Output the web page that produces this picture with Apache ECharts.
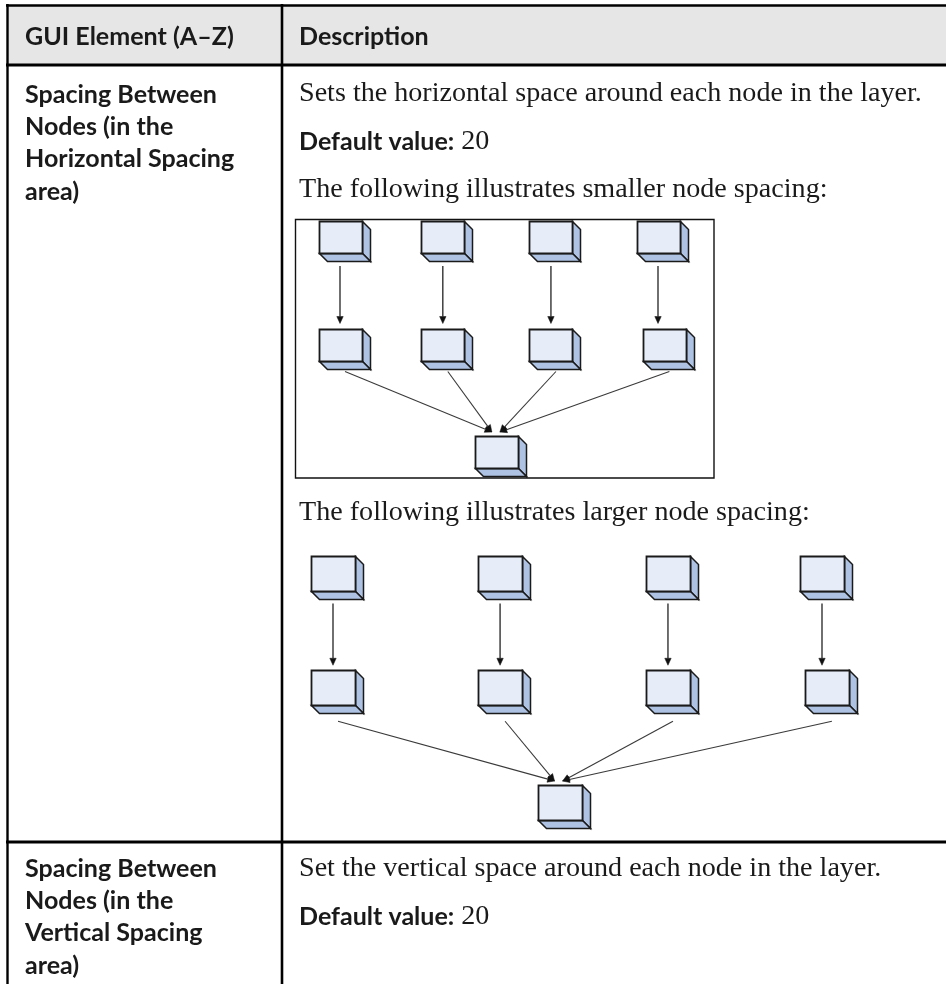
<!DOCTYPE html>
<html>
<head>
<meta charset="utf-8">
<script src="https://cdn.jsdelivr.net/npm/echarts@6/dist/echarts.min.js"></script>
<style>
  html, body { margin: 0; padding: 0; background: #ffffff; }
  #chart { width: 946px; height: 984px; }
</style>
</head>
<body>
<div id="chart"></div>
<script>
// ---------------- DATA ----------------
const headers = ['GUI Element (A–Z)', 'Description'];
const elementNames = [
  ['Spacing Between', 'Nodes (in the', 'Horizontal Spacing', 'area)'],
  ['Spacing Between', 'Nodes (in the', 'Vertical Spacing', 'area)']
];
const descriptions = [
  'Sets the horizontal space around each node in the layer.',
  'Set the vertical space around each node in the layer.'
];
const defaultLabel = 'Default value:';
const defaultValues = ['20', '20'];
const captions = [
  'The following illustrates smaller node spacing:',
  'The following illustrates larger node spacing:'
];
// node positions: slot (horizontal position, in node-slot units) and layer
const smallNodeSlot  = [0, 0.97, 1.99, 3.0, 0, 0.97, 1.99, 3.06, 1.48];
const smallNodeLayer = [0, 0, 0, 0, 1, 1, 1, 1, 2];
const largeNodeSlot  = [0, 1.025, 2.055, 3.0, 0, 1.025, 2.055, 3.03, 1.39];
const largeNodeLayer = [0, 0, 0, 0, 1, 1, 1, 1, 2];
const edgeSource = [0, 1, 2, 3, 4, 5, 6, 7];
const edgeTarget = [4, 5, 6, 7, 8, 8, 8, 8];

// ---------------- STYLE / LAYOUT ----------------
const SANS = "Lato";
const SERIF = "'Liberation Serif'";
const INK = '#1a1a1a';
const FRONT = '#e6edf8';
const SIDE = '#aec3e3';
const EDGE = '#1a1a1a';

function measure(text, font) {
  const ctx = document.createElement('canvas').getContext('2d');
  ctx.font = font;
  return ctx.measureText(text).width;
}
function fit(text, weight, family, target) {
  return 100 * target / measure(text, weight + ' 100px ' + family);
}
const sansSize = fit(elementNames[0][0], 'bold', SANS, 192);
const serifSize = fit(descriptions[0], 'normal', SERIF, 623);

function sansText(str, x, mid) {
  return { type: 'text', silent: true, z: 10,
    style: { text: str, x: x, y: mid,
      fontFamily: SANS, fontWeight: 'bold', fontSize: sansSize, fill: INK,
      textAlign: 'left', textVerticalAlign: 'middle', align: 'left', verticalAlign: 'middle' } };
}
function serifText(str, x, mid) {
  return { type: 'text', silent: true, z: 10,
    style: { text: str, x: x, y: mid,
      fontFamily: SERIF, fontWeight: 'normal', fontSize: serifSize, fill: INK,
      textAlign: 'left', textVerticalAlign: 'middle', align: 'left', verticalAlign: 'middle' } };
}
function defaultLine(value, x, mid) {
  const w = measure(defaultLabel, 'bold ' + sansSize + 'px ' + SANS);
  const sp = measure(' ', serifSize + 'px ' + SERIF);
  return [sansText(defaultLabel, x, mid), serifText(value, x + w + sp, mid)];
}
function hline(x1, x2, y, lw) {
  return { type: 'line', silent: true, z: 5, shape: { x1: x1, y1: y, x2: x2, y2: y },
    style: { stroke: '#000', lineWidth: lw } };
}
function vline(x, y1, y2, lw) {
  return { type: 'line', silent: true, z: 5, shape: { x1: x, y1: y1, x2: x, y2: y2 },
    style: { stroke: '#000', lineWidth: lw } };
}

const COL_L = 25, COL_R = 299;
const graphics = [
  { type: 'rect', silent: true, z: 1, shape: { x: 7, y: 5, width: 945, height: 60 }, style: { fill: '#e6e6e6' } },
  hline(6, 950, 5.5, 2.6),
  hline(6, 950, 65, 3),
  hline(6, 950, 842, 3),
  vline(7.5, 4, 990, 2.4),
  vline(282, 4, 990, 2.6),
  { type: 'rect', silent: true, z: 5, shape: { x: 295.5, y: 219.5, width: 418.5, height: 258.5 },
    style: { fill: 'none', stroke: '#111', lineWidth: 1.4 } },
  sansText(headers[0], COL_L, 37),
  sansText(headers[1], COL_R, 37)
];
const rowFirstMid = [95, 869];
elementNames.forEach((lines, r) => {
  lines.forEach((ln, i) => graphics.push(sansText(ln, COL_L, rowFirstMid[r] + i * 32.2)));
});
graphics.push(serifText(descriptions[0], COL_R, 94));
graphics.push(...defaultLine(defaultValues[0], COL_R, 142));
graphics.push(serifText(captions[0], COL_R, 190));
graphics.push(serifText(captions[1], COL_R, 513));
graphics.push(serifText(descriptions[1], COL_R, 869));
graphics.push(...defaultLine(defaultValues[1], COL_R, 917));

// ---------------- DIAGRAM SERIES ----------------
const cubeDims = [{ w: 43, h: 32, d: 8, gap: 3 }, { w: 44, h: 35, d: 8, gap: 8 }];
const diagrams = [
  { slot: smallNodeSlot, layer: smallNodeLayer },
  { slot: largeNodeSlot, layer: largeNodeLayer }
];

function cubeSeries(di) {
  const dim = cubeDims[di];
  const nodes = diagrams[di];
  return {
    type: 'custom', xAxisIndex: di, yAxisIndex: di, clip: false, z: 4, silent: true,
    data: nodes.slot.map((s, i) => [s, nodes.layer[i]]),
    renderItem: function (params, api) {
      const c = api.coord([api.value(0), api.value(1)]);
      const w = dim.w, h = dim.h, d = dim.d;
      const x0 = Math.round(c[0] - w / 2) + 0.5, y0 = Math.round(c[1] - h / 2) + 0.5;
      return { type: 'group', children: [
        { type: 'polygon', shape: { points: [[x0 + w, y0], [x0 + w + d, y0 + d], [x0 + w + d, y0 + h + d], [x0 + w, y0 + h]] },
          style: { fill: SIDE, stroke: EDGE, lineWidth: 1.5 } },
        { type: 'polygon', shape: { points: [[x0, y0 + h], [x0 + w, y0 + h], [x0 + w + d, y0 + h + d], [x0 + d, y0 + h + d]] },
          style: { fill: SIDE, stroke: EDGE, lineWidth: 1.5 } },
        { type: 'rect', shape: { x: x0, y: y0, width: w, height: h },
          style: { fill: FRONT, stroke: EDGE, lineWidth: 1.8 } }
      ] };
    }
  };
}

function edgeSeries(di) {
  const dim = cubeDims[di];
  const nodes = diagrams[di];
  return {
    type: 'custom', xAxisIndex: di, yAxisIndex: di, clip: false, z: 3, silent: true,
    data: edgeSource.map((s, i) => [s, edgeTarget[i]]),
    renderItem: function (params, api) {
      const si = api.value(0), ti = api.value(1);
      const s = api.coord([nodes.slot[si], nodes.layer[si]]);
      const t = api.coord([nodes.slot[ti], nodes.layer[ti]]);
      const vertical = Math.abs(s[0] - t[0]) < 12;
      let x1, y1, x2, y2;
      if (vertical) {
        x1 = s[0]; y1 = s[1] + dim.h / 2 + dim.d + 5;
        x2 = s[0]; y2 = t[1] - dim.h / 2 - 5;
      } else {
        x1 = s[0] + 5; y1 = s[1] + dim.h / 2 + dim.d + dim.gap;
        x2 = t[0] + (s[0] < t[0] ? -5 : 3); y2 = t[1] - dim.h / 2 - 4;
      }
      const ang = Math.atan2(y2 - y1, x2 - x1);
      const L = 7, W = 3.2;
      const bx = x2 - L * Math.cos(ang), by = y2 - L * Math.sin(ang);
      const px = -Math.sin(ang) * W, py = Math.cos(ang) * W;
      return { type: 'group', children: [
        { type: 'line', shape: { x1: x1, y1: y1, x2: bx, y2: by },
          style: { stroke: vertical ? '#222' : '#3a3a3a', lineWidth: vertical ? 1.3 : 1.1 } },
        { type: 'polygon', shape: { points: [[x2, y2], [bx + px, by + py], [bx - px, by - py]] },
          style: { fill: '#111', stroke: '#111', lineWidth: 0.5 } }
      ] };
    }
  };
}

const chart = echarts.init(document.getElementById('chart'), null, { renderer: 'canvas' });
chart.setOption({
  animation: false,
  backgroundColor: '#ffffff',
  grid: [
    { left: 340, top: 237, width: 318, height: 215 },
    { left: 333, top: 573, width: 489, height: 229.5 }
  ],
  xAxis: [
    { gridIndex: 0, type: 'value', min: 0, max: 3, show: false },
    { gridIndex: 1, type: 'value', min: 0, max: 3, show: false }
  ],
  yAxis: [
    { gridIndex: 0, type: 'value', min: 0, max: 2, inverse: true, show: false },
    { gridIndex: 1, type: 'value', min: 0, max: 2, inverse: true, show: false }
  ],
  graphic: { elements: graphics },
  series: [edgeSeries(0), cubeSeries(0), edgeSeries(1), cubeSeries(1)]
});
</script>
</body>
</html>
